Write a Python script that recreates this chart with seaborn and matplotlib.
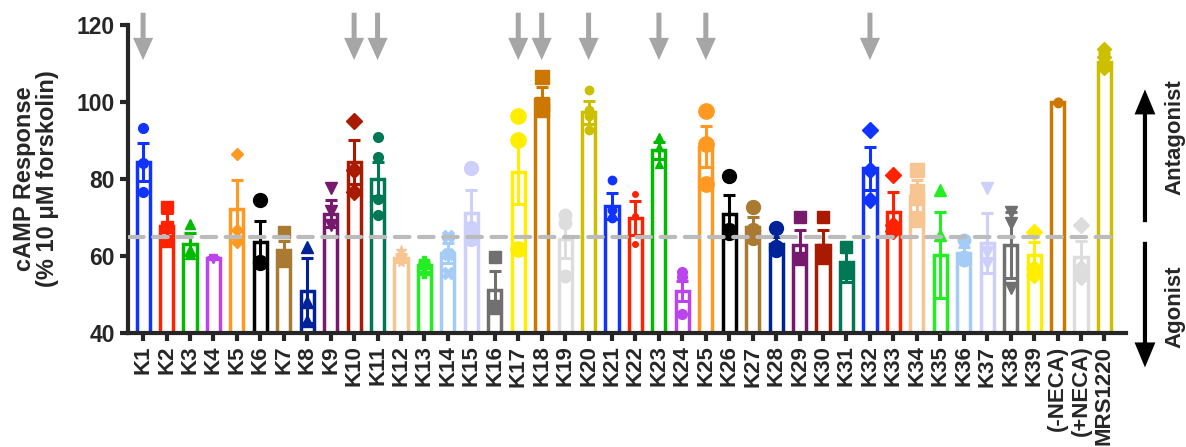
import numpy as np
import pandas as pd
import matplotlib
matplotlib.use("Agg")
import matplotlib.pyplot as plt
import seaborn as sns

# bar labels, means and SEM
names = [f"K{i}" for i in range(1, 40)] + ["(-NECA)", "(+NECA)", "MRS1220"]
means = [84.4, 67.8, 63.1, 59.5, 72.2, 63.6, 61.6, 51.0, 71.0, 84.4,
         80.1, 59.4, 57.7, 60.7, 71.3, 51.1, 81.8, 100.7, 64.4, 97.3,
         73.0, 69.9, 87.5, 51.0, 88.4, 70.8, 67.6, 63.2, 62.9, 62.9,
         58.5, 82.8, 71.5, 75.6, 60.3, 60.8, 63.5, 62.9, 60.3, 99.9,
         59.8, 110.5]
sems = [5.0, 3.4, 2.8, 0.3, 7.5, 5.5, 2.2, 8.5, 3.5, 5.7,
        4.4, 1.0, 0.8, 2.6, 5.8, 5.0, 8.3, 3.2, 5.0, 3.0,
        3.3, 4.5, 2.2, 2.6, 5.4, 5.0, 2.6, 1.8, 3.9, 3.9,
        5.2, 5.6, 5.0, 4.1, 11.2, 1.6, 7.8, 8.5, 3.4, 0.2,
        4.0, 2.2]

# individual replicates
points = [
    [93.2, 84.2, 76.5], [72.8, 67.5, 64.0], [68.3, 61.5, 60.5], [59.5, 59.3, 59.2],
    [86.6, 66.8, 63.7], [74.5, 58.5, 58.3], [66.3, 60.0, 58.8], [62.4, 48.0, 43.0],
    [77.6, 71.8, 68.0], [95.0, 82.3, 76.6], [91.0, 85.6, 74.8, 70.6], [61.2, 59.5, 58.4],
    [58.8, 57.6, 55.5], [65.3, 60.4, 55.5], [82.8, 67.2, 64.4], [59.7, 47.0, 46.5],
    [96.4, 90.1, 61.8], [106.5, 99.5, 97.8], [70.6, 68.5, 54.8], [103.0, 98.0, 96.5, 92.8],
    [79.7, 72.0, 70.0], [76.0, 70.5, 63.2], [91.0, 88.4, 84.0], [55.9, 54.6, 45.0],
    [97.6, 89.0, 78.8], [80.7, 66.8, 66.0], [72.8, 66.8, 64.6], [67.3, 62.4, 61.6],
    [70.1, 59.5, 59.3], [70.1, 61.6, 59.4], [62.4, 56.8, 55.5], [92.8, 82.3, 74.5],
    [81.0, 68.0, 66.5], [82.4, 77.0, 75.0, 69.4], [77.1, 65.4, 38.5], [64.2, 59.8, 59.0],
    [77.6, 61.0, 58.1], [71.4, 68.5, 51.7], [66.3, 56.8, 55.0], [100.0, 100.0, 99.8],
    [68.0, 57.0, 54.5], [113.9, 111.7, 110.1, 108.8],
]

arrow_bars = ["K1", "K10", "K11", "K17", "K18", "K20", "K23", "K25", "K32"]

base = ['#1133ff', '#ff2200', '#00bb00', '#bb44ee', '#ff9922', '#000000', '#aa7a33',
        '#002299', '#771a6e', '#aa1a00', '#007755', '#f7c592', '#22ee22', '#a4ccf7',
        '#cdd0fb', '#707070', '#ffee00', '#cc7700', '#dddddd', '#ccbf00']
colors = base + base[:11] + [base[0], base[1]] + base[11:]
markers = ['o', 's', '^', 'v', 'D', 'o', 's', '^', 'v', 'D', 'o', '*', 'P', 'X', 'o',
           's', 'o', 's', 'o', 'o', 'o', 'o', '^', 'o', 'o', 'o', 'o', 'o', 's', 's',
           's', 'D', 'D', 's', '^', 'o', 'v', 'v', 'D', 'o', 'D', 'D']
msizes = [7, 8, 7, 6, 6, 10, 9, 8, 9, 8, 7, 8, 7, 8, 10, 9, 11, 10, 9, 6,
          6, 4, 6, 7, 11, 10, 10, 10, 9, 9, 8, 8, 8, 10, 9, 9, 9, 9, 8, 6, 8, 7]

df = pd.DataFrame({"compound": names, "response": means})

sns.set_style("ticks")
plt.rcParams['font.family'] = ['Liberation Sans', 'DejaVu Sans']
plt.rcParams['font.weight'] = 'bold'

fig = plt.figure(figsize=(11.86, 4.47), dpi=100)
ax = fig.add_axes([0.108, 0.255, 0.841, 0.689])

sns.barplot(data=df, x="compound", y="response", hue="compound", palette=colors,
            fill=False, linewidth=2.5, width=0.56, legend=False, ax=ax, zorder=2)

for i, (m, s, c) in enumerate(zip(means, sems, colors)):
    ax.errorbar(i, m, yerr=s, fmt='none', ecolor=c, elinewidth=2.2, capsize=4,
                capthick=2.2, zorder=3)
    ax.plot(np.full(len(points[i]), i), points[i], linestyle='none', marker=markers[i],
            color=c, ms=msizes[i], zorder=4)

ax.plot([-0.6, 41.5], [65, 65], color='#bbbbbb', lw=3, ls=(0, (3.5, 2.3)),
        dash_capstyle='round', zorder=5)

for name in arrow_bars:
    i = names.index(name)
    ax.annotate('', xy=(i, 110.9), xytext=(i, 123.2), annotation_clip=False,
                arrowprops=dict(facecolor='#a6a6a6', edgecolor='none', width=3.6,
                                headwidth=14.5, headlength=16))

ax.set_xlim(-0.64, 41.9)
ax.set_ylim(40, 120)
ax.set_xticks(range(len(names)), names, rotation=90, fontsize=16, fontweight='bold')
ax.set_yticks([40, 60, 80, 100, 120], ['40', '60', '80', '100', '120'],
              fontsize=16.5, fontweight='bold')
ax.set_xlabel("")
ax.set_ylabel("cAMP Response\n(% 10 μM forskolin)", fontsize=17, fontweight='bold',
              labelpad=13, linespacing=1.0)
ax.tick_params(axis='y', width=3, length=6)
ax.tick_params(axis='x', width=3, length=6, pad=3)
sns.despine(ax=ax)
for sp in ['left', 'bottom']:
    ax.spines[sp].set_linewidth(3)

# antagonist / agonist side annotation
ax.annotate('', xy=(0.9654, 0.80), xytext=(0.9654, 0.503), xycoords='figure fraction',
            arrowprops=dict(facecolor='black', edgecolor='none', width=3, headwidth=15,
                            headlength=18))
ax.annotate('', xy=(0.9654, 0.178), xytext=(0.9654, 0.459), xycoords='figure fraction',
            arrowprops=dict(facecolor='black', edgecolor='none', width=3, headwidth=15,
                            headlength=18))
fig.text(0.991, 0.694, "Antagonist", rotation=90, ha='center', va='center',
         fontsize=16, fontweight='bold')
fig.text(0.991, 0.313, "Agonist", rotation=90, ha='center', va='center',
         fontsize=16, fontweight='bold')

fig.savefig("out.png", dpi=100)
